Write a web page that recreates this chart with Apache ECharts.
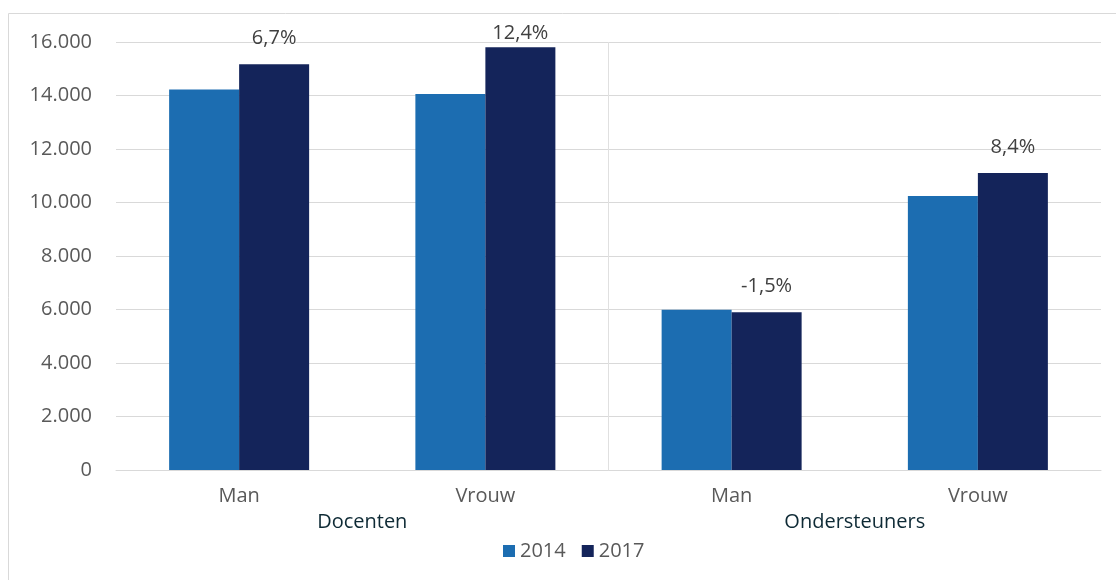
<!DOCTYPE html>
<html>
<head>
<meta charset="utf-8">
<script src="https://cdn.jsdelivr.net/npm/echarts@6/dist/echarts.min.js"></script>
<style>
  html, body { margin: 0; padding: 0; background: #fff; }
  #chart { width: 1116px; height: 580px; }
</style>
</head>
<body>
<div id="chart"></div>
<script>
const categories = ['Man', 'Vrouw', 'Man', 'Vrouw']
const groups = ['Docenten', 'Ondersteuners']
const values2014 = [14220, 14060, 5990, 10240]
const values2017 = [15170, 15800, 5900, 11100]
const changeLabels = ['6,7%', '12,4%', '-1,5%', '8,4%']
// boundary between the two groups, counted in category widths
const groupBoundary = 2

const font = '"Open Sans", sans-serif'

function formatThousands(v) {
  return String(v).replace(/\B(?=(\d{3})+(?!\d))/g, '.')
}

const chart = echarts.init(document.getElementById('chart'))

chart.setOption({
  animation: false,
  color: ['#1c6db1', '#14245a'],
  graphic: [
    {
      type: 'rect',
      shape: { x: 8.5, y: 13.5, width: 1120, height: 580 },
      style: { fill: 'none', stroke: '#d9d9d9', lineWidth: 1 },
      silent: true
    }
  ],
  grid: { left: 116, right: 15, top: 42, bottom: 110 },
  legend: {
    left: 498,
    top: 536,
    icon: 'rect',
    itemWidth: 12,
    itemHeight: 12,
    itemGap: 16,
    textStyle: { fontFamily: font, fontSize: 20, color: '#595959' },
    data: ['2014', '2017']
  },
  xAxis: [
    {
      type: 'category',
      data: categories,
      axisLine: { lineStyle: { color: '#d9d9d9', width: 1 } },
      axisTick: { show: false },
      axisLabel: { margin: 16, fontFamily: font, fontSize: 20, color: '#595959' },
      splitLine: { show: false }
    },
    {
      type: 'category',
      data: groups,
      position: 'bottom',
      offset: 26,
      axisLine: { show: false },
      axisTick: { show: false },
      axisLabel: { margin: 16, fontFamily: font, fontSize: 20, color: '#0e2a35' },
      splitLine: { show: false }
    },
    {
      // helper axis in category-width units, used for the group separator
      type: 'value',
      min: 0,
      max: categories.length,
      show: false
    }
  ],
  yAxis: {
    type: 'value',
    min: 0,
    max: 16000,
    interval: 2000,
    axisLine: { show: false },
    axisTick: { show: false },
    axisLabel: {
      margin: 24,
      fontFamily: font,
      fontSize: 20,
      color: '#595959',
      formatter: formatThousands
    },
    splitLine: { lineStyle: { color: '#d9d9d9', width: 1 } }
  },
  series: [
    {
      name: '2014',
      type: 'bar',
      data: values2014,
      barWidth: 70,
      barGap: '0%'
    },
    {
      name: '2017',
      type: 'bar',
      barWidth: 70,
      data: values2017.map((v, i) => ({
        value: v,
        label: {
          show: true,
          position: 'top',
          distance: i === 1 ? 4 : 16,
          formatter: changeLabels[i],
          fontFamily: font,
          fontSize: 20,
          color: '#404040'
        }
      }))
    },
    {
      name: 'separator',
      type: 'line',
      xAxisIndex: 2,
      data: [],
      silent: true,
      markLine: {
        silent: true,
        symbol: 'none',
        label: { show: false },
        lineStyle: { type: 'solid', color: '#e0e0e0', width: 1 },
        data: [{ xAxis: groupBoundary }]
      }
    }
  ]
})
</script>
</body>
</html>
